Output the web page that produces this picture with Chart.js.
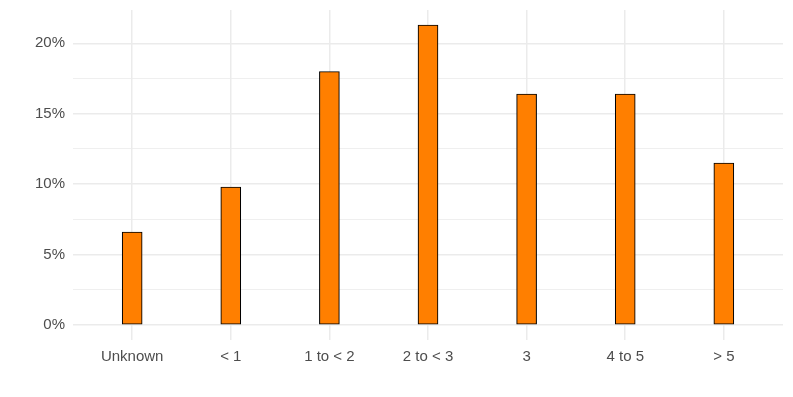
<!DOCTYPE html>
<html>
<head>
<meta charset="utf-8">
<script src="https://cdn.jsdelivr.net/npm/chart.js@4"></script>
<style>
  html, body { margin: 0; padding: 0; background: #fff; }
  #wrap { width: 793px; height: 397px; }
</style>
</head>
<body>
<div id="wrap"><canvas id="barChart" width="793" height="397"></canvas></div>
<script>
// data
const categories = ['Unknown', '< 1', '1 to < 2', '2 to < 3', '3', '4 to 5', '> 5'];
const shares = [6.6, 9.8, 18.0, 21.3, 16.4, 16.4, 11.5];
const yTicks = [0, 5, 10, 15, 20];

const gridColor = '#EBEBEB';
const textColor = '#4D4D4D';

function initBarChart() {
    const ctx = document.getElementById('barChart').getContext('2d');
    // ggplot-style expansion: 0.6 units on a discrete axis, 5% on a continuous one
    const yMax = Math.max(...shares);
    const yPad = yMax * 0.05;

    new Chart(ctx, {
        type: 'bar',
        data: {
            datasets: [{
                data: shares.map((v, i) => ({ x: i, y: v })),
                backgroundColor: '#FF7F00',
                borderColor: '#000000',
                borderWidth: 1.1,
                borderSkipped: false,
                barThickness: 20
            }]
        },
        options: {
            responsive: false,
            animation: false,
            layout: { padding: { left: 0, right: 10, top: 10, bottom: 0 } },
            plugins: {
                legend: { display: false },
                tooltip: { enabled: false }
            },
            scales: {
                x: {
                    type: 'linear',
                    offset: false,
                    min: -0.6,
                    max: categories.length - 0.4,
                    border: { display: false },
                    grid: { color: gridColor, lineWidth: 1.5, drawTicks: false, offset: false },
                    ticks: {
                        stepSize: 1,
                        includeBounds: false,
                        padding: 8,
                        color: textColor,
                        font: { family: 'Liberation Sans', size: 15 },
                        maxRotation: 0,
                        callback: v => categories[v] !== undefined ? categories[v] : ''
                    },
                    afterFit: scale => {
                        scale.height = 57;
                        scale.paddingLeft = 0;
                        scale.paddingRight = 0;
                    }
                },
                y: {
                    min: -yPad,
                    max: yMax + yPad,
                    border: { display: false },
                    grid: {
                        color: gridColor,
                        drawTicks: false,
                        lineWidth: c => (c.tick && yTicks.includes(c.tick.value)) ? 1.5 : 0.8
                    },
                    ticks: {
                        stepSize: 2.5,
                        includeBounds: false,
                        padding: 8,
                        color: textColor,
                        font: { family: 'Liberation Sans', size: 15 },
                        callback: v => yTicks.includes(v) ? v + '%' : ''
                    },
                    afterFit: scale => {
                        scale.width = 73;
                        scale.paddingTop = 0;
                        scale.paddingBottom = 0;
                    }
                }
            }
        }
    });
}

initBarChart();
</script>
</body>
</html>
